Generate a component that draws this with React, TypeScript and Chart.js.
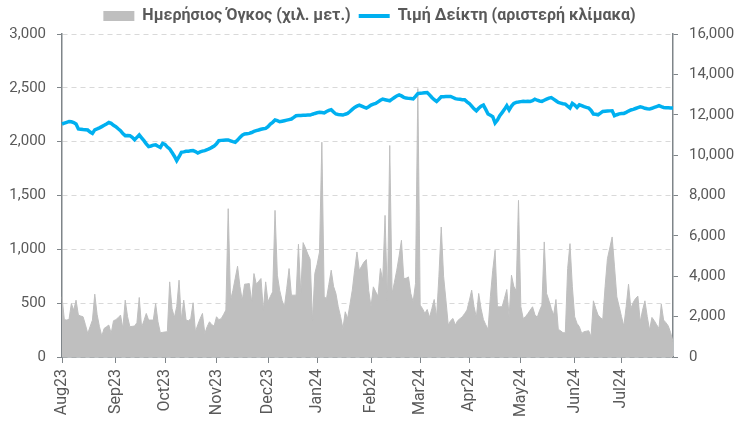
import React, { useEffect, useRef } from 'react';
import { Chart, registerables } from 'chart.js';

Chart.register(...registerables);

// ---- Data ----
const monthLabels = ['Aug23', 'Sep23', 'Oct23', 'Nov23', 'Dec23', 'Jan24', 'Feb24', 'Mar24', 'Apr24', 'May24', 'Jun24', 'Jul24'];

// Daily volume (χιλ. μετ.) – right scale
const volume = [
  2980, 1850, 1830, 1860, 2650, 2320, 2816, 2075, 2030, 1993,
  1600, 1170, 1500, 1828, 3113, 2100, 1500, 1037, 1416, 1500,
  1581, 1170, 1795, 1850, 1950, 2075, 1416, 2816, 2000, 1500,
  1520, 1532, 1700, 2948, 1466, 1800, 2158, 1828, 1830, 1828,
  2650, 1746, 1202, 1220, 1240, 1252, 3722, 2400, 1960, 2500,
  3805, 1828, 2816, 1828, 1795, 1900, 2685, 1252, 1600, 1900,
  2158, 1170, 1500, 1746, 1600, 1532, 1993, 1850, 1900, 2100,
  2322, 7346, 2816, 3300, 3900, 4496, 3500, 2816, 3607, 3620,
  3640, 2734, 4134, 3607, 3750, 3887, 2322, 3722, 2734, 3000,
  3228, 7263, 4052, 3300, 2800, 2487, 3400, 4381, 3063, 3063,
  3063, 5583, 3146, 5666, 5400, 5100, 4842, 1828, 4134, 4600,
  5200, 10640, 2981, 2899, 3600, 4299, 3500, 3146, 2487, 2000,
  1416, 2240, 1910, 2600, 3310, 4300, 5204, 4299, 4500, 4700,
  4826, 3310, 2487, 3475, 3228, 3014, 4381, 3805, 7016, 2816,
  10475, 3146, 3700, 4299, 5000, 5781, 3887, 3900, 3969, 3146,
  2734, 3640, 13300, 2569, 2400, 2158, 2355, 1960, 2400, 2849,
  1960, 4000, 6440, 4000, 2816, 1581, 1800, 1910, 1581, 1800,
  1900, 1993, 2150, 2322, 2800, 3310, 2500, 1960, 3146, 2400,
  1860, 1600, 1367, 3000, 4300, 5287, 2487, 2487, 2487, 2900,
  3343, 1993, 4052, 3500, 3278, 7757, 2500, 1910, 2000, 2150,
  2322, 2487, 2100, 1960, 2300, 2569, 5699, 3146, 2800, 2400,
  2075, 2849, 1367, 1300, 1202, 1202, 4381, 5616, 3500, 1993,
  1663, 1499, 1170, 1252, 1280, 1301, 1005, 2783, 2400, 2075,
  1950, 1860, 3500, 4875, 5400, 5946, 4500, 2981, 2500, 2000,
  1532, 2500, 3607, 2405, 2700, 2900, 3014, 1746, 2322, 2783,
  2000, 1334, 1960, 1800, 1600, 1416, 2619, 1828, 1700, 1532,
  1200, 760,
];

// Index price – left scale
const price = [
  2164, 2172, 2180, 2188, 2185, 2178, 2164, 2118, 2115, 2112,
  2110, 2108, 2090, 2077, 2110, 2118, 2128, 2140, 2152, 2165,
  2179, 2170, 2152, 2140, 2120, 2102, 2075, 2056, 2058, 2056,
  2040, 2018, 2040, 2062, 2035, 2009, 1980, 1954, 1960, 1968,
  1970, 1958, 1947, 1984, 1975, 1950, 1933, 1900, 1865, 1824,
  1860, 1901, 1905, 1910, 1912, 1915, 1917, 1908, 1895, 1905,
  1912, 1917, 1925, 1935, 1947, 1960, 1980, 2009, 2012, 2014,
  2016, 2016, 2008, 2000, 1994, 2015, 2040, 2060, 2071, 2074,
  2077, 2085, 2095, 2102, 2108, 2115, 2120, 2123, 2140, 2164,
  2180, 2201, 2195, 2185, 2190, 2195, 2200, 2205, 2210, 2225,
  2241, 2242, 2243, 2245, 2246, 2247, 2247, 2255, 2262, 2268,
  2272, 2270, 2266, 2280, 2290, 2297, 2275, 2257, 2252, 2250,
  2247, 2255, 2262, 2280, 2300, 2318, 2330, 2340, 2330, 2320,
  2312, 2325, 2340, 2349, 2355, 2370, 2385, 2395, 2390, 2385,
  2380, 2395, 2410, 2425, 2435, 2425, 2412, 2405, 2402, 2400,
  2397, 2420, 2447, 2450, 2452, 2455, 2457, 2435, 2410, 2390,
  2374, 2395, 2417, 2418, 2419, 2420, 2420, 2410, 2400, 2395,
  2393, 2390, 2389, 2370, 2355, 2330, 2305, 2287, 2310, 2330,
  2340, 2300, 2257, 2245, 2232, 2173, 2200, 2241, 2270, 2300,
  2334, 2294, 2330, 2355, 2365, 2368, 2372, 2375, 2373, 2376,
  2374, 2380, 2395, 2385, 2378, 2374, 2385, 2395, 2405, 2410,
  2395, 2380, 2364, 2358, 2352, 2349, 2330, 2312, 2355, 2340,
  2318, 2343, 2335, 2325, 2318, 2312, 2290, 2257, 2255, 2250,
  2265, 2281, 2283, 2285, 2286, 2287, 2241, 2250, 2258, 2262,
  2262, 2272, 2284, 2294, 2300, 2308, 2316, 2324, 2318, 2310,
  2305, 2303, 2310, 2318, 2326, 2334, 2325, 2318, 2315, 2314,
  2313, 2312,
];

const volumeLabel = 'Ημερήσιος Όγκος (χιλ. μετ.)';
const priceLabel = 'Τιμή Δείκτη (αριστερή κλίμακα)';

// Trading days (weekdays) from 1 Aug 2023
function buildDates(n: number): Date[] {
  const out: Date[] = [];
  const d = new Date(2023, 7, 1);
  while (out.length < n) {
    const wd = d.getDay();
    if (wd !== 0 && wd !== 6) out.push(new Date(d));
    d.setDate(d.getDate() + 1);
  }
  return out;
}

const GREY_TEXT = '#595959';
const AXIS = '#7F8589';
const GRID = '#D9D9D9';
const BLUE = '#00B0F0';
const AREA = '#BFBFBF';
const FONT = 'Roboto, "Noto Sans", sans-serif';

export default function App() {
  const ref = useRef<HTMLCanvasElement | null>(null);

  useEffect(() => {
    document.body.style.margin = '0';
    const canvas = ref.current;
    if (!canvas) return;
    const dates = buildDates(price.length);
    const labels = dates.map((d) => `${d.getFullYear()}-${d.getMonth() + 1}-${d.getDate()}`);
    const monthStart: (string | null)[] = dates.map((d, i) => {
      if (i === 0 || d.getMonth() !== dates[i - 1].getMonth()) {
        const k = (d.getFullYear() - 2023) * 12 + d.getMonth() - 7;
        return monthLabels[k] ?? null;
      }
      return null;
    });

    const chart = new Chart(canvas, {
      type: 'line',
      data: {
        labels,
        datasets: [
          {
            label: volumeLabel,
            data: volume,
            yAxisID: 'y1',
            backgroundColor: AREA,
            borderColor: AREA,
            borderWidth: 1,
            fill: 'origin',
            pointRadius: 0,
            tension: 0,
            order: 2,
          },
          {
            label: priceLabel,
            data: price,
            yAxisID: 'y',
            borderColor: BLUE,
            backgroundColor: BLUE,
            borderWidth: 3.5,
            fill: false,
            pointRadius: 0,
            tension: 0,
            order: 1,
          },
        ],
      },
      options: {
        responsive: false,
        animation: false,
        devicePixelRatio: 1,
        layout: { padding: { left: 0, right: 0, top: 0, bottom: 0 } },
        plugins: {
          tooltip: { enabled: false },
          legend: {
            display: true,
            position: 'top',
            labels: {
              usePointStyle: true,
              pointStyleWidth: 31,
              boxHeight: 10,
              padding: 8,
              color: GREY_TEXT,
              font: { family: FONT, size: 16, weight: 'bold' },
              generateLabels: () => [
                {
                  text: volumeLabel,
                  fillStyle: AREA,
                  strokeStyle: AREA,
                  lineWidth: 0,
                  pointStyle: 'rect',
                  datasetIndex: 0,
                  hidden: false,
                  fontColor: GREY_TEXT,
                },
                {
                  text: priceLabel,
                  fillStyle: BLUE,
                  strokeStyle: BLUE,
                  lineWidth: 4,
                  pointStyle: 'line',
                  datasetIndex: 1,
                  hidden: false,
                  fontColor: GREY_TEXT,
                },
              ],
            },
          },
        },
        scales: {
          x: {
            type: 'category',
            grid: {
              drawOnChartArea: false,
              drawTicks: true,
              tickLength: 6,
              tickColor: (ctx: any) => (monthStart[ctx.index] ? AXIS : 'rgba(0,0,0,0)'),
            },
            border: { display: true, color: AXIS, width: 1.5 },
            ticks: {
              autoSkip: false,
              maxRotation: 90,
              minRotation: 90,
              padding: 6,
              color: GREY_TEXT,
              font: { family: FONT, size: 16 },
              callback: (_v: any, i: number) => monthStart[i] ?? '',
            },
            afterFit: (s: any) => {
              s.height = 64;
            },
          },
          y: {
            type: 'linear',
            position: 'left',
            min: 0,
            max: 3000,
            grid: {
              color: GRID,
              lineWidth: 1,
              drawTicks: true,
              tickLength: 5,
              tickColor: AXIS,
            },
            border: { display: true, color: AXIS, width: 1.5, dash: [5, 4] },
            ticks: {
              stepSize: 500,
              padding: 11,
              color: GREY_TEXT,
              font: { family: FONT, size: 15 },
              callback: (v: any) => Number(v).toLocaleString('en-US'),
            },
            afterFit: (s: any) => {
              s.width = 62;
            },
          },
          y1: {
            type: 'linear',
            position: 'right',
            min: 0,
            max: 16000,
            grid: {
              drawOnChartArea: false,
              drawTicks: true,
              tickLength: 5,
              tickColor: AXIS,
            },
            border: { display: true, color: AXIS, width: 1.5 },
            ticks: {
              stepSize: 2000,
              padding: 11,
              color: GREY_TEXT,
              font: { family: FONT, size: 15 },
              callback: (v: any) => Number(v).toLocaleString('en-US'),
            },
            afterFit: (s: any) => {
              s.width = 66;
            },
          },
        },
      },
    });
    return () => chart.destroy();
  }, []);

  return (
    <div style={{ width: 739, height: 421, position: 'relative', background: '#fff' }}>
      <canvas ref={ref} width={739} height={421} />
    </div>
  );
}
